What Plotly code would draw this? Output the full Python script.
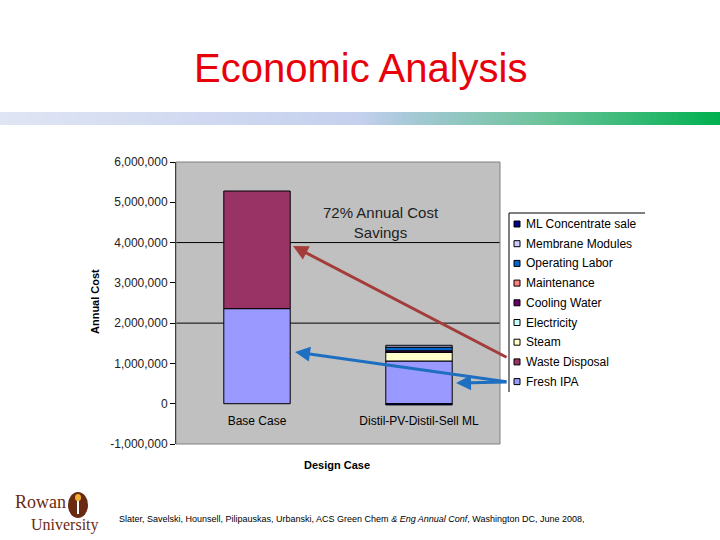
import plotly.graph_objects as go

# ---- data ----
categories = ["Base Case", "Distil-PV-Distil-Sell ML"]
series_names = ["Fresh IPA", "Waste Disposal", "Steam", "Electricity", "Cooling Water",
                "Maintenance", "Operating Labor", "Membrane Modules", "ML Concentrate sale"]
fresh_ipa = [2360000, 1060000]
waste_disposal = [2920000, 0]
steam = [0, 215000]
electricity = [0, 5000]
cooling_water = [0, 35000]
maintenance = [0, 0]
operating_labor = [0, 90000]
membrane_modules = [0, 45000]
ml_concentrate_sale = [0, -30000]
series_values = [fresh_ipa, waste_disposal, steam, electricity, cooling_water,
                 maintenance, operating_labor, membrane_modules, ml_concentrate_sale]
series_colors = ["#9999FF", "#993366", "#FFFFCC", "#CCFFFF", "#660066",
                 "#FF8080", "#0066CC", "#CCCCFF", "#000080"]
y_tickvals = [-1000000, 0, 1000000, 2000000, 3000000, 4000000, 5000000, 6000000]
y_ticktext = ["-1,000,000", "0", "1,000,000", "2,000,000", "3,000,000",
              "4,000,000", "5,000,000", "6,000,000"]
grid_values = [2000000, 4000000]

W, H = 720, 540
def px(x):
    return x / W
def py(y):
    return 1 - y / H

FONT = "Liberation Sans, Arial, sans-serif"

fig = go.Figure()
for name, vals, col in zip(series_names, series_values, series_colors):
    # zero-valued segments are not drawn (avoids doubled outlines)
    shown = [v if v != 0 else None for v in vals]
    fig.add_trace(go.Bar(x=categories, y=shown, name=name, showlegend=False,
                         marker=dict(color=col, line=dict(color="black", width=1)),
                         xaxis="x", yaxis="y"))

# gradient band (decoration)
fig.add_trace(go.Heatmap(z=[[0, 1]], x=[0, 1], y=[0], zsmooth="best",
                         colorscale=[[0, "#e0e5f4"], [0.5, "#c4d0ee"], [0.56, "#a9c9da"],
                                     [0.75, "#6ec39c"], [1, "#00b050"]],
                         showscale=False, hoverinfo="skip", xaxis="x2", yaxis="y2",
                         showlegend=False))

x0, x1 = 176, 500
y_top, y_bot = 162, 444
zero_y = 404

fig.update_layout(
    template="none",
    width=W, height=H,
    margin=dict(l=0, r=0, t=0, b=0, pad=0, autoexpand=False),
    paper_bgcolor="white",
    plot_bgcolor="#C0C0C0",
    barmode="relative",
    bargap=0.59,
    font=dict(family=FONT, size=12, color="black"),
    xaxis=dict(domain=[px(x0), px(x1)], anchor="free", position=py(zero_y),
               showline=False, ticks="", showgrid=False, zeroline=False, automargin=False,
               ticklabelstandoff=8, tickfont=dict(size=12, color="black")),
    yaxis=dict(domain=[py(y_bot), py(y_top)], range=[-1000000, 6000000], automargin=False,
               tickvals=y_tickvals, ticktext=y_ticktext, showgrid=False, zeroline=False,
               showline=True, linecolor="black", linewidth=1, ticks="outside",
               ticklen=5, tickcolor="black", tickfont=dict(size=12, color="#222")),
    xaxis2=dict(domain=[0, 1], anchor="y2", range=[0, 1], visible=False, automargin=False),
    yaxis2=dict(domain=[py(125), py(112)], anchor="x2", range=[-0.5, 0.5], visible=False,
                automargin=False),
    showlegend=False,
)

shapes = []
for g in grid_values:
    shapes.append(dict(type="line", xref="paper", yref="y", x0=px(x0), x1=px(x1),
                       y0=g, y1=g, line=dict(color="black", width=1), layer="below"))
shapes.append(dict(type="rect", xref="paper", yref="paper", x0=px(x0), x1=px(x1),
                   y0=py(y_bot), y1=py(y_top), line=dict(color="#808080", width=1)))

ann = []
# custom legend (Excel style), reversed stacking order
leg_left, leg_top, leg_bottom, leg_right = 509, 213, 392, 645
shapes.append(dict(type="line", xref="paper", yref="paper", x0=px(leg_left), x1=px(leg_left),
                   y0=py(leg_top), y1=py(leg_bottom), line=dict(color="black", width=1)))
shapes.append(dict(type="line", xref="paper", yref="paper", x0=px(leg_left), x1=px(leg_right),
                   y0=py(leg_top), y1=py(leg_top), line=dict(color="black", width=1)))
row_y0, row_dy = 224, 19.7
for i, (name, col) in enumerate(zip(series_names[::-1], series_colors[::-1])):
    cy = row_y0 + i * row_dy
    shapes.append(dict(type="rect", xref="paper", yref="paper", x0=px(514), x1=px(520),
                       y0=py(cy + 3), y1=py(cy - 3), fillcolor=col,
                       line=dict(color="black", width=1)))
    ann.append(dict(text=name, x=px(524), y=py(cy), xref="paper", yref="paper",
                    xanchor="left", yanchor="middle", showarrow=False,
                    font=dict(family=FONT, size=12, color="black")))

# logo circle
shapes.append(dict(type="circle", xref="paper", yref="paper", x0=px(68), x1=px(88),
                   y0=py(518), y1=py(492), fillcolor="#6a2a12", line=dict(width=0)))
shapes.append(dict(type="line", xref="paper", yref="paper", x0=px(78), x1=px(78),
                   y0=py(514), y1=py(500), line=dict(color="white", width=2)))
shapes.append(dict(type="circle", xref="paper", yref="paper", x0=px(75), x1=px(81),
                   y0=py(501), y1=py(494), fillcolor="#f0b030", line=dict(width=0)))
fig.update_layout(shapes=shapes)

ann.append(dict(text="Economic Analysis", x=px(360), y=py(68), xref="paper", yref="paper",
                xanchor="center", yanchor="middle", showarrow=False,
                font=dict(family=FONT, size=40, color="#E8000B")))
ann.append(dict(text="72% Annual Cost<br>Savings", x=px(381), y=py(222), xref="paper",
                yref="paper", xanchor="center", yanchor="middle", showarrow=False,
                font=dict(family=FONT, size=15, color="#222")))
ann.append(dict(text="<b>Annual Cost</b>", x=px(95), y=py(302), xref="paper", yref="paper",
                xanchor="center", yanchor="middle", showarrow=False, textangle=-90,
                font=dict(family=FONT, size=11, color="black")))
ann.append(dict(text="<b>Design Case</b>", x=px(337), y=py(465), xref="paper", yref="paper",
                xanchor="center", yanchor="middle", showarrow=False,
                font=dict(family=FONT, size=11, color="black")))
# arrows
arrows = [((508, 358), (293, 246), "#A33C3A"),
          ((508, 382), (295, 352), "#1F6FC0"),
          ((508, 382), (456, 383), "#1F6FC0")]
for (tx, ty), (hx, hy), col in arrows:
    ann.append(dict(x=px(hx), y=py(hy), ax=tx - hx, ay=ty - hy, xref="paper", yref="paper",
                    axref="pixel", ayref="pixel", showarrow=True, arrowhead=2,
                    arrowsize=1, arrowwidth=3, arrowcolor=col, text=""))
# logo text
ann.append(dict(text="Rowan", x=px(13), y=py(502), xref="paper", yref="paper",
                xanchor="left", yanchor="middle", showarrow=False,
                font=dict(family="Liberation Serif, serif", size=18, color="#6a2a12")))
ann.append(dict(text="University", x=px(29), y=py(525), xref="paper", yref="paper",
                xanchor="left", yanchor="middle", showarrow=False,
                font=dict(family="Liberation Serif, serif", size=16, color="#6a2a12")))
ann.append(dict(text="Slater, Savelski, Hounsell, Pilipauskas, Urbanski, ACS Green Chem <i>& Eng Annual Conf</i>, Washington DC, June 2008,",
                x=px(117), y=py(519), xref="paper", yref="paper", xanchor="left",
                yanchor="middle", showarrow=False,
                font=dict(family=FONT, size=9, color="black")))
fig.update_layout(annotations=ann)

fig.write_html("out.html", config={"displayModeBar": False},
               post_script="document.body.style.margin='0px';")
